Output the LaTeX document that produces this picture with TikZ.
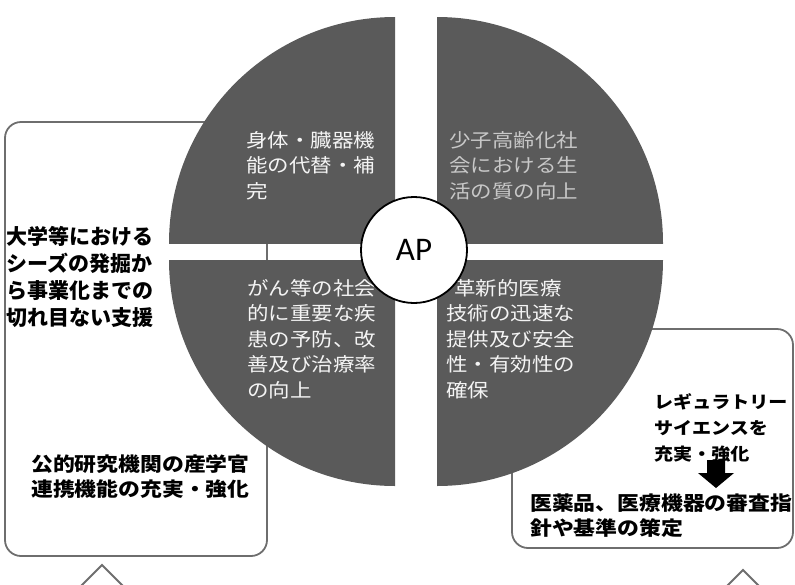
\documentclass[tikz,border=0pt]{standalone}
\usepackage{fontspec}
\usetikzlibrary{calc}
\newfontfamily\jpq[FakeStretch=1.13]{Noto Sans CJK JP}
\newfontfamily\jpw[FakeStretch=1.0]{Noto Sans CJK JP}
\newfontfamily\jps[FakeStretch=1.12]{Noto Sans CJK JP}
\newfontfamily\apfont{Carlito}
\definecolor{quadfill}{HTML}{5A5A5A}
\definecolor{quadtxt}{HTML}{F4F4F4}
\definecolor{quadtxtb}{HTML}{C8C8C8}
\definecolor{boxline}{HTML}{6E6E6E}
\tikzset{
  roundbox/.style={draw=boxline, line width=1.8pt, rounded corners=16pt},
  quadtext/.style={anchor=base west, inner sep=0pt, align=left, text=quadtxt, font=\jpq\fontsize{19}{25.5}\selectfont},
  boxtext/.style={anchor=base west, inner sep=0pt, align=left, text=black},
  tip/.style={draw=boxline, line width=1.8pt}
}
\begin{document}
\begin{tikzpicture}[x=1pt,y=-1pt]
\useasboundingbox (0,0) rectangle (795,584);
% boxes behind the circle
\draw[roundbox] (5,122) rectangle (267,556);
\draw[roundbox] (512,329) rectangle (793,548);
% quadrants
\begin{scope}\clip (395,243) rectangle (150,0);
\fill[quadfill] (395,243) circle[radius=226];\end{scope}
\begin{scope}\clip (437,243) rectangle (700,0);
\fill[quadfill] (437,243) circle[radius=226];\end{scope}
\begin{scope}\clip (395,260) rectangle (150,500);
\fill[quadfill] (395,260) circle[radius=226];\end{scope}
\begin{scope}\clip (437,260) rectangle (700,500);
\fill[quadfill] (437,260) circle[radius=226];\end{scope}
% quadrant texts (anchor = baseline of last line)
\node[quadtext] (ul) at (246,198) {身体・臓器機\\能の代替・補\\完};
\node[quadtext, text=quadtxtb] (ur) at (449,198) {少子高齢化社\\会における生\\活の質の向上};
\node[quadtext] (ll) at (247,397) {がん等の社会\\的に重要な疾\\患の予防、改\\善及び治療率\\の向上};
\node[quadtext] (lr) at (446,397) {\hspace*{8pt}革新的医療\\技術の迅速な\\提供及び安全\\性・有効性の\\確保};
% AP circle
\node[circle, draw=black, line width=1.8pt, fill=white, minimum size=106pt, inner sep=0pt, font=\apfont\fontsize{33}{33}\selectfont] (ap) at (414,250) {AP};
% box texts
\node[boxtext, font=\jpw\bfseries\fontsize{21}{26.7}\selectfont] (seeds) at (6,325) {大学等における\\シーズの発掘か\\ら事業化までの\\切れ目ない支援};
\node[boxtext, font=\jps\bfseries\fontsize{19.5}{25}\selectfont] (public) at (31,496) {公的研究機関の産学官\\連携機能の充実・強化};
\node[boxtext, font=\jps\bfseries\fontsize{17}{25.7}\selectfont] (rs) at (654,460) {レギュラトリー\\サイエンスを\\充実・強化};
\node[boxtext, font=\jps\bfseries\fontsize{19.5}{25}\selectfont] (guide) at (530,535) {医薬品、医療機器の審査指\\針や基準の策定};
% thick down arrow
\coordinate (arr) at (716,460);
\fill[black] ($(arr)+(-9,0)$) -- ($(arr)+(9,0)$) -- ($(arr)+(9,13)$) -- ($(arr)+(18,13)$) -- ($(arr)+(0,28)$) -- ($(arr)+(-18,13)$) -- ($(arr)+(-9,13)$) -- cycle;
% arrow tips at the bottom
\coordinate (ltip) at (102,565);
\coordinate (rtip) at (743,570);
\draw[tip] ($(ltip)+(-22,22)$) -- (ltip) -- ($(ltip)+(22,22)$);
\draw[tip] ($(rtip)+(-17,17)$) -- (rtip) -- ($(rtip)+(17,17)$);
\end{tikzpicture}
\end{document}
